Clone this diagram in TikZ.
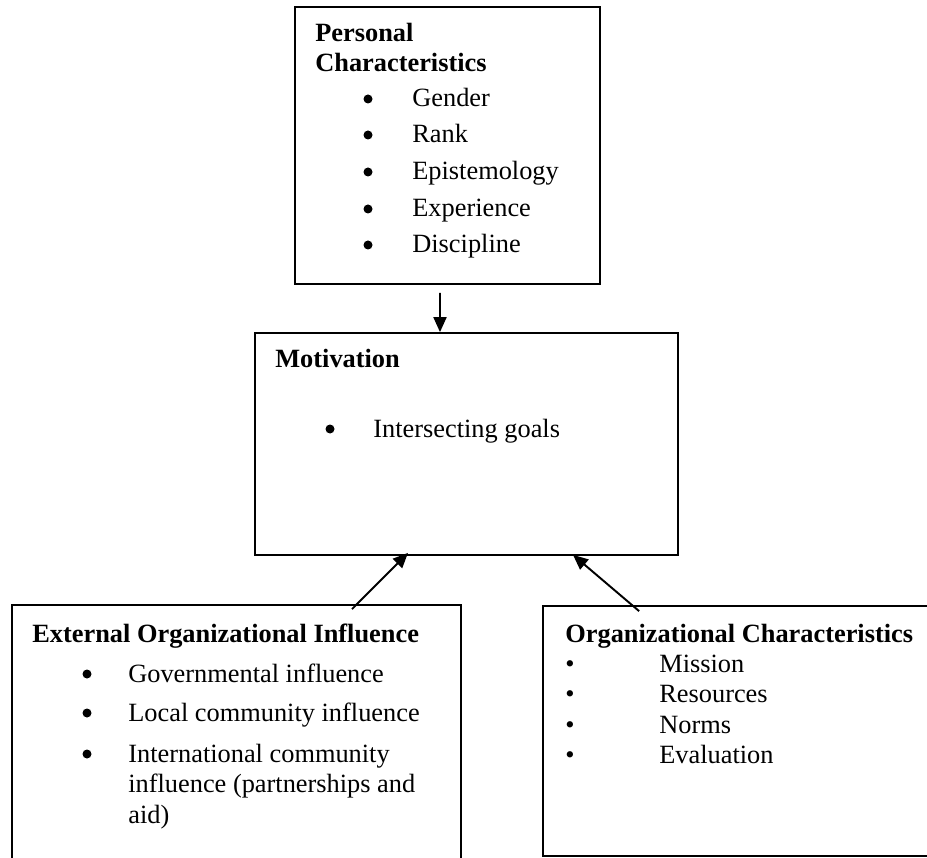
\documentclass[tikz,border=0pt]{standalone}
\usepackage{fontspec}
\setmainfont{Liberation Serif}
\usetikzlibrary{arrows.meta}

\begin{document}
\begin{tikzpicture}[x=1cm,y=1cm]
\tikzset{
  boxnode/.style={rectangle,draw,line width=1pt,inner sep=0pt},
  headtext/.style={anchor=base west,inner sep=0pt,font=\fontsize{15}{18}\selectfont\bfseries},
  itemtext/.style={anchor=base west,inner sep=0pt,font=\fontsize{15}{18}\selectfont},
  dotmark/.style={circle,fill,inner sep=0pt,minimum size=1.8mm},
  flow/.style={-{Triangle[length=3mm,width=2.6mm]},line width=1.1pt}
}
\useasboundingbox (0,0) rectangle (18.54,17.14);
\node[boxnode,minimum width=6.10cm,minimum height=5.54cm] (n_personal) at (8.95,14.23) {};
\node[boxnode,minimum width=8.46cm,minimum height=4.44cm] (n_motiv) at (9.33,8.26) {};
\node[boxnode,minimum width=8.98cm,minimum height=5.50cm] (n_external) at (4.73,2.29) {};
\node[boxnode,minimum width=8.04cm,minimum height=5.00cm] (n_orgchar) at (14.88,2.52) {};
\node[headtext] (n_pc_head1) at (6.30,16.30) {Personal};
\node[headtext] (n_pc_head2) at (6.30,15.70) {Characteristics};
\node[dotmark] (n_pc_dot1) at (7.36,15.16) {};
\node[dotmark] (n_pc_dot2) at (7.36,14.44) {};
\node[dotmark] (n_pc_dot3) at (7.36,13.70) {};
\node[dotmark] (n_pc_dot4) at (7.36,12.96) {};
\node[dotmark] (n_pc_dot5) at (7.36,12.24) {};
\node[itemtext] (n_pc_item1) at (8.24,15.00) {Gender};
\node[itemtext] (n_pc_item2) at (8.24,14.28) {Rank};
\node[itemtext] (n_pc_item3) at (8.24,13.54) {Epistemology};
\node[itemtext] (n_pc_item4) at (8.24,12.80) {Experience};
\node[itemtext] (n_pc_item5) at (8.24,12.08) {Discipline};
\node[headtext] (n_mo_head) at (5.50,9.78) {Motivation};
\node[dotmark] (n_mo_dot1) at (6.60,8.56) {};
\node[itemtext] (n_mo_item1) at (7.46,8.40) {Intersecting goals};
\node[headtext] (n_ex_head) at (0.64,4.30) {External Organizational Influence};
\node[dotmark] (n_ex_dot1) at (1.74,3.66) {};
\node[dotmark] (n_ex_dot2) at (1.74,2.88) {};
\node[dotmark] (n_ex_dot3) at (1.74,2.06) {};
\node[itemtext] (n_ex_item1) at (2.56,3.50) {Governmental influence};
\node[itemtext] (n_ex_item2) at (2.56,2.72) {Local community influence};
\node[itemtext] (n_ex_item3) at (2.56,1.90) {International community};
\node[itemtext] (n_ex_item3b) at (2.56,1.30) {influence (partnerships and};
\node[itemtext] (n_ex_item3c) at (2.56,0.68) {aid)};
\node[headtext] (n_oc_head) at (11.30,4.30) {Organizational Characteristics};
\node[itemtext] (n_oc_dot1) at (11.30,3.70) {\textbullet};
\node[itemtext] (n_oc_dot2) at (11.30,3.10) {\textbullet};
\node[itemtext] (n_oc_dot3) at (11.30,2.48) {\textbullet};
\node[itemtext] (n_oc_dot4) at (11.30,1.88) {\textbullet};
\node[itemtext] (n_oc_item1) at (13.18,3.70) {Mission};
\node[itemtext] (n_oc_item2) at (13.18,3.10) {Resources};
\node[itemtext] (n_oc_item3) at (13.18,2.48) {Norms};
\node[itemtext] (n_oc_item4) at (13.18,1.88) {Evaluation};
\draw[flow,shorten <=0.16cm] ([xshift=-0.15cm]n_personal.south) -- ([xshift=-0.53cm]n_motiv.north);
\draw[flow] ([xshift=2.31cm,yshift=-0.10cm]n_external.north) -- ([xshift=-1.17cm,yshift=0.06cm]n_motiv.south);
\draw[flow] ([xshift=1.94cm,yshift=-0.12cm]n_orgchar.north west) -- ([xshift=2.13cm,yshift=0.02cm]n_motiv.south);
\end{tikzpicture}
\end{document}
